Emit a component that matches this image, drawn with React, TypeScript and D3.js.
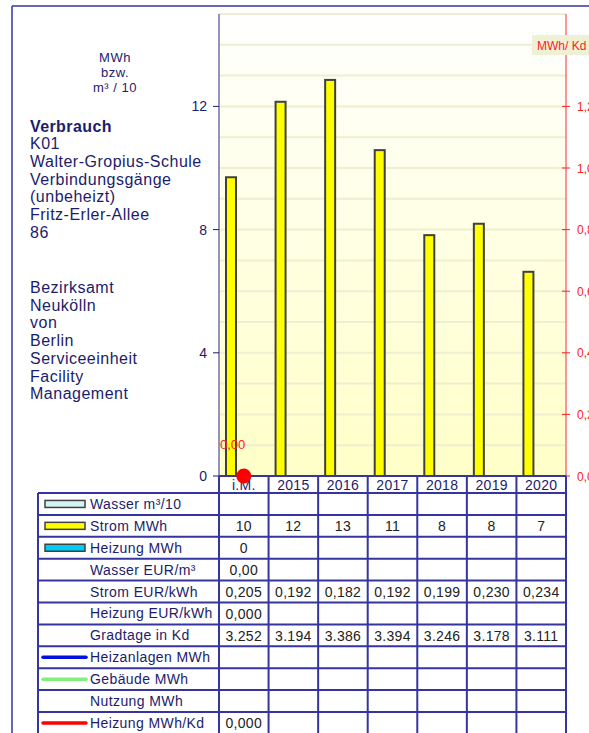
import * as d3 from "d3";

const categories = ["i.M.", "2015", "2016", "2017", "2018", "2019", "2020"];
const stromValues = [9.7, 12.15, 12.86, 10.58, 7.82, 8.19, 6.63];
const heizungKdValues = [0];
const heizungKdLabels = ["0,00"];
const leftTicks = [0, 4, 8, 12];
const rightTicks = [0, 0.2, 0.4, 0.6, 0.8, 1.0, 1.2];

const infoLines = [
  "K01",
  "Walter-Gropius-Schule",
  "Verbindungsgänge",
  "(unbeheizt)",
  "Fritz-Erler-Allee",
  "86",
];
const ownerLines = ["Bezirksamt", "Neukölln", "von", "Berlin", "Serviceeinheit", "Facility", "Management"];
const unitLines = ["MWh", "bzw.", "m³ / 10"];

type Row = { label: string; legend?: "rect" | "line"; color?: string; values: string[] };
const rows: Row[] = [
  { label: "Wasser m³/10", legend: "rect", color: "#d4f4f4", values: [] },
  { label: "Strom MWh", legend: "rect", color: "#ffff00", values: ["10", "12", "13", "11", "8", "8", "7"] },
  { label: "Heizung MWh", legend: "rect", color: "#00ccf5", values: ["0"] },
  { label: "Wasser EUR/m³", values: ["0,00"] },
  { label: "Strom EUR/kWh", values: ["0,205", "0,192", "0,182", "0,192", "0,199", "0,230", "0,234"] },
  { label: "Heizung EUR/kWh", values: ["0,000"] },
  { label: "Gradtage in Kd", values: ["3.252", "3.194", "3.386", "3.394", "3.246", "3.178", "3.111"] },
  { label: "Heizanlagen MWh", legend: "line", color: "#0010e0", values: [] },
  { label: "Gebäude MWh", legend: "line", color: "#80f080", values: [] },
  { label: "Nutzung MWh", values: [] },
  { label: "Heizung MWh/Kd", legend: "line", color: "#ff0000", values: ["0,000"] },
];

const W = 589;
const H = 733;
const plotL = 219;
const plotR = 566;
const plotT = 14;
const plotB = 476;
const tableL = 38;
const headerB = 493;
const rowH = 21.9;
const navy = "#1c1c6c";
const grid = "#3535a0";
const font = "'Liberation Sans', Arial, sans-serif";

export default function App() {
  const x = d3.scaleBand<string>().domain(categories).range([plotL, plotR]);
  const y = d3.scaleLinear().domain([0, 15]).range([plotB, plotT]);
  const y2 = d3.scaleLinear().domain([0, 1.5]).range([plotB, plotT]);
  const bw = x.bandwidth();
  const gridVals = d3.range(1, 16);
  const tableB = headerB + rows.length * rowH;

  return (
    <svg width={W} height={H} style={{ position: "absolute", left: 0, top: 0, fontFamily: font }}>
      <defs>
        <linearGradient id="bg" x1="0" y1="0" x2="0" y2="1">
          <stop offset="0" stopColor="#ffffff" />
          <stop offset="1" stopColor="#ffffc8" />
        </linearGradient>
      </defs>
      <rect width={W} height={H} fill="#fff" />
      {/* outer frame */}
      <line x1={12} x2={W} y1={6} y2={6} stroke={grid} strokeWidth={1.5} />
      <line x1={12} x2={12} y1={6} y2={H} stroke={grid} strokeWidth={1.5} />

      {/* plot background */}
      <rect x={plotL} y={plotT} width={plotR - plotL} height={plotB - plotT} fill="url(#bg)" />
      {gridVals.map((v) => (
        <line key={v} x1={plotL} x2={plotR} y1={y(v)} y2={y(v)} stroke="#eeeed0" strokeWidth={2} />
      ))}

      {/* bars */}
      {categories.map((c, i) => (
        <rect
          key={c}
          x={(x(c) ?? 0) + 7}
          y={y(stromValues[i])}
          width={10}
          height={plotB - y(stromValues[i])}
          fill="#ffff00"
          stroke="#404040"
          strokeWidth={2}
        />
      ))}

      {/* left axis */}
      <line x1={plotL} x2={plotL} y1={plotT} y2={plotB} stroke="#7070a8" strokeWidth={1.5} />
      {leftTicks.map((t) => (
        <g key={t}>
          <line x1={plotL - 6} x2={plotL} y1={y(t)} y2={y(t)} stroke={navy} strokeWidth={1} />
          <text x={plotL - 12} y={y(t) + 5} textAnchor="end" fontSize={14} fill={navy}>
            {t}
          </text>
        </g>
      ))}

      {/* right axis */}
      <line x1={plotR} x2={plotR} y1={plotT} y2={plotB} stroke="#ff7070" strokeWidth={1.5} />
      {rightTicks.map((t) => (
        <g key={t}>
          <line x1={plotR - 4} x2={plotR + 4} y1={y2(t)} y2={y2(t)} stroke="#ff2020" strokeWidth={1} />
          <text x={plotR + 11} y={y2(t) + 4.5} fontSize={12} fill="#ff2020">
            {t.toFixed(1).replace(".", ",")}
          </text>
        </g>
      ))}
      <rect x={532} y={35} width={60} height={20} fill="#f0f0d4" />
      <text x={537} y={50} fontSize={12} fill="#ff2020">
        MWh/ Kd
      </text>

      {/* left texts */}
      {unitLines.map((t, i) => (
        <text key={t} x={115} y={61.5 + i * 15.2} textAnchor="middle" fontSize={13} letterSpacing={0.5} fill={navy}>
          {t}
        </text>
      ))}
      <text x={30} y={131.5} fontSize={16} fontWeight="bold" letterSpacing={0.4} fill={navy}>
        Verbrauch
      </text>
      {infoLines.map((t, i) => (
        <text key={t} x={30} y={149.2 + i * 17.7} fontSize={16} letterSpacing={0.5} fill={navy}>
          {t}
        </text>
      ))}
      {ownerLines.map((t, i) => (
        <text key={t} x={30} y={293 + i * 17.7} fontSize={16} letterSpacing={0.5} fill={navy}>
          {t}
        </text>
      ))}

      {/* table */}
      <rect x={plotL} y={plotB} width={plotR - plotL} height={headerB - plotB} fill="#fff" />
      {categories.map((c) => (
        <text key={c} x={(x(c) ?? 0) + bw / 2} y={plotB + 14} textAnchor="middle" fontSize={14} letterSpacing={0.3} fill={navy}>
          {c}
        </text>
      ))}
      {rows.map((r, ri) => {
        const top = headerB + ri * rowH;
        const cy = top + rowH / 2;
        return (
          <g key={r.label}>
            {r.legend === "rect" && (
              <rect x={45} y={cy - 3.5} width={40} height={7} fill={r.color} stroke="#404040" strokeWidth={1.5} />
            )}
            {r.legend === "line" && (
              <line x1={43} x2={86} y1={cy} y2={cy} stroke={r.color} strokeWidth={3.5} strokeLinecap="round" />
            )}
            <text x={90} y={cy + 5} fontSize={14} letterSpacing={0.4} fill={navy}>
              {r.label}
            </text>
            {r.values.map((v, i) => (
              <text key={i} x={(x(categories[i]) ?? 0) + bw / 2} y={cy + 5.5} textAnchor="middle" fontSize={14} letterSpacing={0.3} fill="#222">
                {v}
              </text>
            ))}
          </g>
        );
      })}
      {d3.range(rows.length + 1).map((i) => (
        <line key={i} x1={tableL} x2={plotR} y1={headerB + i * rowH} y2={headerB + i * rowH} stroke={grid} strokeWidth={2} />
      ))}
      <line x1={plotL} x2={plotR} y1={plotB} y2={plotB} stroke={grid} strokeWidth={2} />
      <line x1={tableL} x2={tableL} y1={headerB} y2={tableB} stroke={grid} strokeWidth={2} />
      {categories.map((c) => (
        <line key={c} x1={x(c) ?? 0} x2={x(c) ?? 0} y1={plotB} y2={tableB} stroke={grid} strokeWidth={2} />
      ))}
      <line x1={plotR} x2={plotR} y1={plotB} y2={tableB} stroke={grid} strokeWidth={2} />

      {/* MWh/Kd series */}
      {heizungKdValues.map((v, i) => (
        <g key={i}>
          <text x={(x(categories[i]) ?? 0) + 1} y={y2(v) - 27} fontSize={13} fill="#ff2020">
            {heizungKdLabels[i]}
          </text>
          <circle cx={(x(categories[i]) ?? 0) + bw / 2} cy={y2(v)} r={7.5} fill="#ff0000" />
        </g>
      ))}
    </svg>
  );
}
